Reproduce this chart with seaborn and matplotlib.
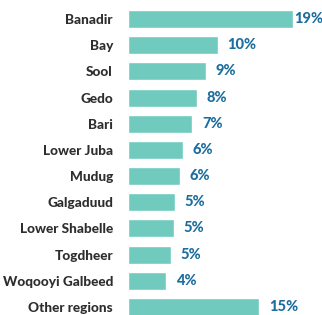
import matplotlib
matplotlib.use('Agg')
import matplotlib.pyplot as plt
import seaborn as sns
import pandas as pd

regions = ['Banadir', 'Bay', 'Sool', 'Gedo', 'Bari', 'Lower Juba', 'Mudug',
           'Galgaduud', 'Lower Shabelle', 'Togdheer', 'Woqooyi Galbeed', 'Other regions']
shares = [19.0, 10.3, 9.0, 7.9, 7.4, 6.3, 6.0, 5.4, 5.3, 4.9, 4.4, 15.1]
value_labels = ['19%', '10%', '9%', '8%', '7%', '6%', '6%', '5%', '5%', '5%', '4%', '15%']

df = pd.DataFrame({'Region': regions, 'Share': shares})

sns.set_style('white')
plt.rcParams['font.family'] = ['Lato', 'DejaVu Sans']

fig = plt.figure(figsize=(3.22, 3.15), dpi=100)
ax = fig.add_axes([0.398, -0.016, 0.602, 0.997])

sns.barplot(data=df, x='Share', y='Region', color='#70CABE', width=0.69,
            saturation=1, ax=ax)

ax.set_xlim(0, 22.34)
ax.set_xlabel('')
ax.set_ylabel('')
ax.set_xticks([])
sns.despine(ax=ax, left=True, bottom=True)
ax.tick_params(axis='y', length=0, pad=11)
for t in ax.get_yticklabels():
    t.set_fontweight('black')
    t.set_fontsize(9.8)
    t.set_color('#2E2E2E')

for i, (v, lab) in enumerate(zip(shares, value_labels)):
    off = 1 if i == 0 else 7
    ax.annotate(lab, (v, i), xytext=(off, 0), textcoords='offset points',
                va='center', ha='left', fontsize=10.5, fontweight='black',
                color='#1C6E9E')

fig.savefig('out.png', dpi=100)
